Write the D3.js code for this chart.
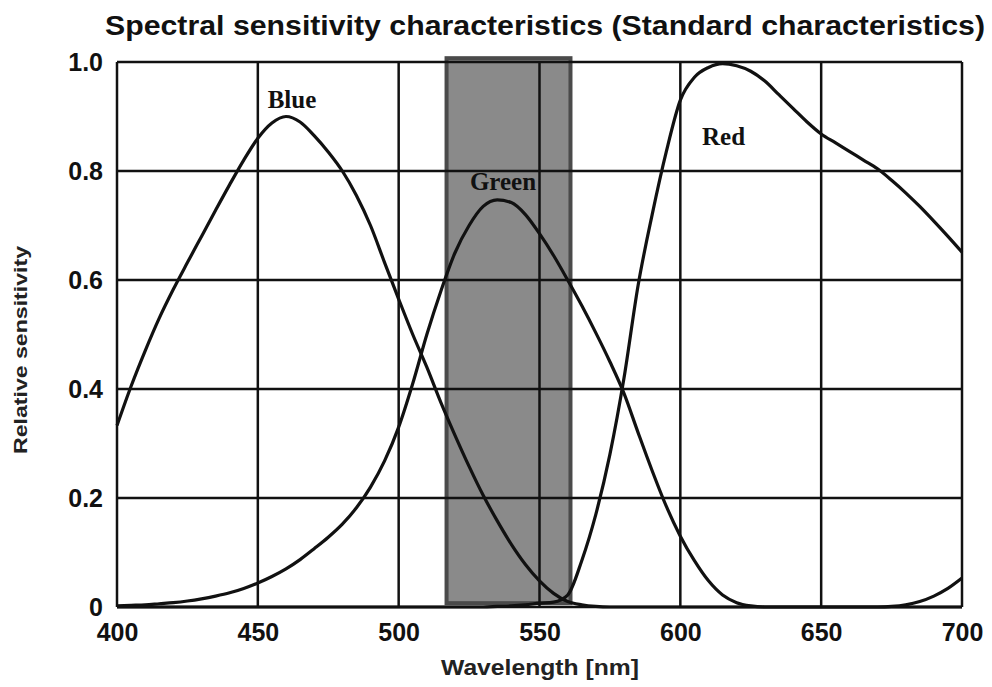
<!DOCTYPE html>
<html>
<head>
<meta charset="utf-8">
<script src="https://cdn.jsdelivr.net/npm/d3@7"></script>
<style>
  body { margin: 0; background: #fff; }
  text { font-family: "Liberation Sans", Arial, sans-serif; }
</style>
</head>
<body>
<div id="chart-area"></div>
<script>
/* Data (one value every 5 nm, 400..700) */

const wavelengths = d3.range(400, 701, 5)

const blueValues = [
  0.333, 0.405, 0.47, 0.53, 0.583, 0.632, 0.68, 0.728, 0.775, 0.82,
  0.86, 0.888, 0.90, 0.89, 0.865, 0.835, 0.80, 0.755, 0.70, 0.632,
  0.565, 0.50, 0.44, 0.375, 0.315, 0.258, 0.205, 0.158, 0.115, 0.078,
  0.048, 0.025, 0.01, 0.004, 0.001, 0, 0, 0, 0, 0,
  0, 0, 0, 0, 0, 0, 0, 0, 0, 0,
  0, 0, 0, 0, 0, 0.001, 0.004, 0.01, 0.02, 0.034, 0.053
]

const greenValues = [
  0.002, 0.003, 0.004, 0.006, 0.008, 0.011, 0.015, 0.02, 0.026, 0.034,
  0.044, 0.056, 0.07, 0.087, 0.107, 0.128, 0.152, 0.182, 0.22, 0.268,
  0.33, 0.41, 0.5, 0.58, 0.65, 0.70, 0.735, 0.747, 0.742, 0.72,
  0.685, 0.645, 0.60, 0.553, 0.503, 0.45, 0.392, 0.32, 0.25, 0.185,
  0.13, 0.085, 0.048, 0.022, 0.008, 0.002, 0, 0, 0, 0,
  0, 0, 0, 0, 0, 0, 0, 0, 0, 0, 0
]

const redValues = [
  0, 0, 0, 0, 0, 0, 0, 0, 0, 0,
  0, 0, 0, 0, 0, 0, 0, 0, 0, 0,
  0, 0, 0, 0, 0, 0, 0, 0.001, 0.002, 0.004,
  0.007, 0.009, 0.022, 0.085, 0.17, 0.28, 0.42, 0.59, 0.72, 0.835,
  0.93, 0.972, 0.99, 0.997, 0.993, 0.983, 0.965, 0.94, 0.915, 0.89,
  0.868, 0.852, 0.836, 0.82, 0.804, 0.783, 0.76, 0.735, 0.708, 0.68, 0.651
]

const seriesNames = ["Blue", "Green", "Red"]
// label anchors in data units (wavelength, sensitivity)
const labelWl = [453.5, 525.3, 607.7]
const labelVal = [0.916, 0.765, 0.848]

// shaded band (nm / sensitivity)
const bandWl = [517, 561]
const bandVal = [0.007, 1.007]

const xTicks = [400, 450, 500, 550, 600, 650, 700]
const yTicks = [0, 0.2, 0.4, 0.6, 0.8, 1.0]
const yTickLabels = ["0", "0.2", "0.4", "0.6", "0.8", "1.0"]

/* Chart area */

const W = 992, H = 687
const MARGIN = { LEFT: 117, RIGHT: 30, TOP: 62, BOTTOM: 80 }

const svg = d3.select("#chart-area").append("svg")
  .attr("width", W)
  .attr("height", H)

svg.append("rect")
  .attr("width", W)
  .attr("height", H)
  .attr("fill", "#fff")

const x = d3.scaleLinear().domain([400, 700]).range([MARGIN.LEFT, W - MARGIN.RIGHT])
const y = d3.scaleLinear().domain([0, 1]).range([H - MARGIN.BOTTOM, MARGIN.TOP])

// grey band
svg.append("rect")
  .attr("x", x(bandWl[0]))
  .attr("y", y(bandVal[1]))
  .attr("width", x(bandWl[1]) - x(bandWl[0]))
  .attr("height", y(bandVal[0]) - y(bandVal[1]))
  .attr("fill", "#8a8a8a")
  .attr("stroke", "#4a4a4a")
  .attr("stroke-width", 4)

// grid lines
const grid = svg.append("g").attr("stroke", "#111").attr("stroke-width", 2.5)
grid.selectAll("line.v").data(xTicks).enter().append("line")
  .attr("class", "v")
  .attr("x1", d => x(d)).attr("x2", d => x(d))
  .attr("y1", y(0)).attr("y2", y(1))
grid.selectAll("line.h").data(yTicks).enter().append("line")
  .attr("class", "h")
  .attr("x1", x(400)).attr("x2", x(700))
  .attr("y1", d => y(d)).attr("y2", d => y(d))

// axes (labels only, grid drawn above)
svg.append("g")
  .attr("transform", `translate(0, ${y(0)})`)
  .call(d3.axisBottom(x).tickValues(xTicks).tickSize(0).tickPadding(16))
svg.append("g")
  .attr("transform", `translate(${x(400)}, 0)`)
  .call(d3.axisLeft(y).tickValues(yTicks).tickSize(0).tickPadding(14)
    .tickFormat((d, i) => yTickLabels[i]))

svg.selectAll(".domain").remove()
svg.selectAll(".tick text")
  .attr("fill", "#111")
  .style("font-size", "25px")
  .style("font-weight", "bold")
  .style("font-family", "'Liberation Sans', Arial, sans-serif")

// curves
const line = d3.line()
  .x((d, i) => x(wavelengths[i]))
  .y(d => y(d))
  .curve(d3.curveMonotoneX)

svg.selectAll("path.curve")
  .data([blueValues, greenValues, redValues])
  .enter().append("path")
  .attr("class", "curve")
  .attr("fill", "none")
  .attr("stroke", "#111")
  .attr("stroke-width", 3.2)
  .attr("stroke-linejoin", "round")
  .attr("d", d => line(d))

// series labels
svg.selectAll("text.series")
  .data(seriesNames)
  .enter().append("text")
  .attr("class", "series")
  .attr("x", (d, i) => x(labelWl[i]))
  .attr("y", (d, i) => y(labelVal[i]))
  .style("font-family", "'Liberation Serif', 'Times New Roman', serif")
  .style("font-weight", "bold")
  .style("font-size", "25px")
  .attr("fill", "#111")
  .text(d => d)

// title
svg.append("text")
  .attr("x", 105)
  .attr("y", 35)
  .attr("textLength", 880)
  .attr("lengthAdjust", "spacingAndGlyphs")
  .style("font-size", "27px")
  .style("font-weight", "bold")
  .attr("fill", "#111")
  .text("Spectral sensitivity characteristics (Standard characteristics)")

// axis titles
svg.append("text")
  .attr("transform", "translate(27, 350) rotate(-90)")
  .attr("text-anchor", "middle")
  .attr("textLength", 208)
  .attr("lengthAdjust", "spacingAndGlyphs")
  .style("font-size", "19px")
  .style("font-weight", "bold")
  .attr("fill", "#222")
  .text("Relative sensitivity")

svg.append("text")
  .attr("x", 540)
  .attr("y", 675)
  .attr("text-anchor", "middle")
  .attr("textLength", 198)
  .attr("lengthAdjust", "spacingAndGlyphs")
  .style("font-size", "22px")
  .style("font-weight", "bold")
  .attr("fill", "#222")
  .text("Wavelength [nm]")
</script>
</body>
</html>
